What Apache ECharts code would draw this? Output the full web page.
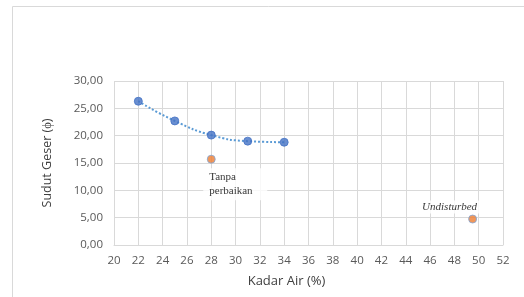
<!DOCTYPE html>
<html><head><meta charset="utf-8">
<script src="https://cdn.jsdelivr.net/npm/echarts@6/dist/echarts.min.js"></script>
<style>html,body{margin:0;padding:0;background:#fff}#c{width:524px;height:297px}</style>
</head><body><div id="c"></div>
<script>
// Data
const perbaikanX = [22, 25, 28, 31, 34];
const perbaikanY = [26.3, 22.7, 20.1, 19.0, 18.8];
const tanpaX = [28];
const tanpaY = [15.7];
const undistX = [49.5];
const undistY = [4.75];
const xTitle = 'Kadar Air (%)';
const yTitle = 'Sudut Geser (\u03d5)';
const tanpaLabel = 'Tanpa\nperbaikan';
const undistLabel = 'Undisturbed';

const chart = echarts.init(document.getElementById('c'));
const zip = (xs, ys) => xs.map((x, i) => [x, ys[i]]);
const tickFont = {color: '#595959', fontSize: 11.5, fontFamily: 'Open Sans'};
chart.setOption({
  animation: false,
  graphic: [{type: 'polyline', shape: {points: [[12.5, 297], [12.5, 6.5], [524, 6.5]]}, style: {stroke: '#d9d9d9', lineWidth: 1, fill: null}, silent: true}],
  grid: {left: 114, right: 21, top: 81, bottom: 52},
  xAxis: {
    type: 'value', min: 20, max: 52, interval: 2,
    name: xTitle, nameLocation: 'middle', nameGap: 30,
    nameTextStyle: {color: '#404040', fontSize: 13, fontFamily: 'Open Sans', padding: [0, 44, 0, 0]},
    axisLine: {show: true, lineStyle: {color: '#d9d9d9'}}, axisTick: {show: false},
    axisLabel: Object.assign({margin: 10}, tickFont),
    splitLine: {show: true, lineStyle: {color: '#d9d9d9'}}
  },
  yAxis: {
    type: 'value', min: 0, max: 30, interval: 5,
    name: yTitle, nameLocation: 'middle', nameGap: 60, nameRotate: 90,
    nameTextStyle: {color: '#404040', fontSize: 12.5, fontFamily: 'Open Sans'},
    axisLine: {show: false}, axisTick: {show: false},
    axisLabel: Object.assign({margin: 11, formatter: v => v.toFixed(2).replace('.', ',')}, tickFont),
    splitLine: {show: true, lineStyle: {color: '#d9d9d9'}}
  },
  series: [
    {type: 'line', data: zip(perbaikanX, perbaikanY), smooth: 0.5, showSymbol: false,
     lineStyle: {color: '#5b9bd5', width: 2, type: [2, 2]}, z: 2},
    {type: 'scatter', data: zip(perbaikanX, perbaikanY), symbolSize: 8,
     itemStyle: {color: '#4472c4', borderColor: '#4472c4', borderWidth: 1}, z: 3},
    {type: 'scatter', data: zip(tanpaX, tanpaY), symbolSize: 8,
     itemStyle: {color: '#ed7d31', borderColor: '#7fa6d9', borderWidth: 1}, z: 3},
    {type: 'scatter', data: zip(undistX, undistY), symbolSize: 8,
     itemStyle: {color: '#ed7d31', borderColor: '#7fa6d9', borderWidth: 1}, z: 3,
     label: {show: true, formatter: undistLabel, position: 'top', offset: [-23, 4],
       color: '#000', fontFamily: 'Liberation Serif', fontStyle: 'italic', fontSize: 11,
       backgroundColor: '#fff', padding: [1, 2, 1, 2]}},
    {type: 'scatter', data: zip(tanpaX, tanpaY), symbolSize: 0, silent: true, z: 4,
     label: {show: true, formatter: tanpaLabel, position: 'bottom', offset: [-8, 4],
       color: '#000', fontFamily: 'Liberation Serif', fontSize: 11, lineHeight: 14,
       align: 'left', backgroundColor: '#fff', padding: [2, 6, 2, 6],
       width: 52}}
  ]
});
</script></body></html>
